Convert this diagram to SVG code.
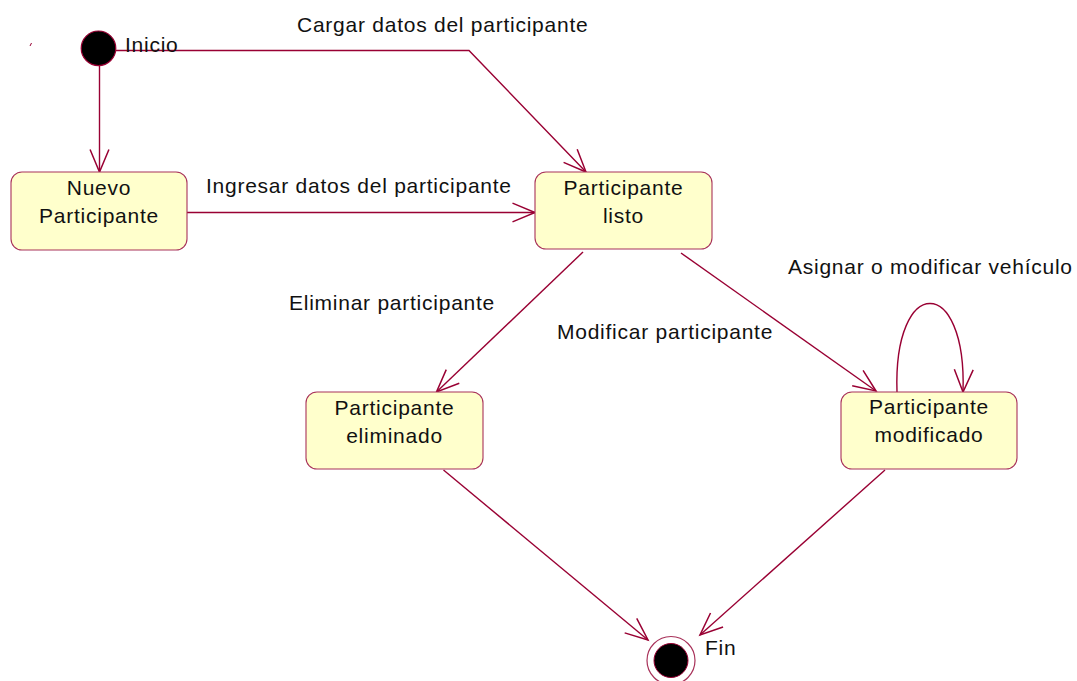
<svg xmlns="http://www.w3.org/2000/svg" width="1077" height="681" viewBox="0 0 1077 681">
  <style>
    text { font-family: "Liberation Sans", Arial, sans-serif; font-size: 21px; fill: #111; letter-spacing: 0.75px; }
    .state rect { fill: #FFFFCC; stroke: #A8325A; stroke-width: 1.1; }
    .state text { text-anchor: middle; }
    .edge { fill: none; stroke: #990033; stroke-width: 1.4; marker-end: url(#open); }
  </style>
  <defs>
    <marker id="open" markerUnits="userSpaceOnUse" markerWidth="30" markerHeight="30" viewBox="-24 -12 28 24" refX="0" refY="0" orient="auto">
      <path d="M-21,-8.8 L0,0 L-21,8.8" fill="none" stroke="#990033" stroke-width="1.4"/>
    </marker>
  </defs>

  <rect width="1077" height="681" fill="#ffffff"/>

  <!-- stray tick -->
  <line x1="30" y1="46" x2="31.5" y2="43" stroke="#990033" stroke-width="1"/>

  <!-- connectors -->
  <g id="connectors">
    <path class="edge" d="M99.5,66 L99.5,172"/>
    <path class="edge" d="M116,50.5 L469,50.5 L586,172"/>
    <path class="edge" d="M187,212.5 L535,212.5"/>
    <path class="edge" d="M583,252 L436.5,392"/>
    <path class="edge" d="M681,253 L876,391"/>
    <path class="edge" d="M897,392 C893,274 967,274 963,392"/>
    <path class="edge" d="M443.5,470 L648,640"/>
    <path class="edge" d="M885,470 L700,635"/>
    <text x="297" y="31.5">Cargar datos del participante</text>
    <text x="206" y="192.5">Ingresar datos del participante</text>
    <text x="289" y="310">Eliminar participante</text>
    <text x="557" y="339">Modificar participante</text>
    <text x="788" y="274">Asignar o modificar vehículo</text>
  </g>

  <!-- initial state -->
  <g id="inicio">
    <circle cx="98.5" cy="48.3" r="17.3" fill="#000" stroke="#990033" stroke-width="1.2"/>
    <text x="125" y="51.7">Inicio</text>
  </g>

  <g id="nuevo" class="state">
    <rect x="11" y="172" width="176" height="78" rx="11"/>
    <text x="99" y="195">Nuevo</text>
    <text x="99" y="223">Participante</text>
  </g>

  <g id="listo" class="state">
    <rect x="535" y="172" width="177" height="77" rx="11"/>
    <text x="623.5" y="195">Participante</text>
    <text x="623.5" y="223">listo</text>
  </g>

  <g id="eliminado" class="state">
    <rect x="306" y="392" width="177" height="77" rx="11"/>
    <text x="394.5" y="414.5">Participante</text>
    <text x="394.5" y="442.5">eliminado</text>
  </g>

  <g id="modificado" class="state">
    <rect x="841" y="392" width="176" height="77" rx="11"/>
    <text x="929" y="414">Participante</text>
    <text x="929" y="442">modificado</text>
  </g>

  <!-- final state -->
  <g id="fin">
    <circle cx="671" cy="660.5" r="24" fill="#fff" stroke="#A8325A" stroke-width="1.2"/>
    <circle cx="671" cy="660.5" r="17" fill="#000" stroke="#990033" stroke-width="1"/>
    <text x="705" y="655">Fin</text>
  </g>
</svg>
